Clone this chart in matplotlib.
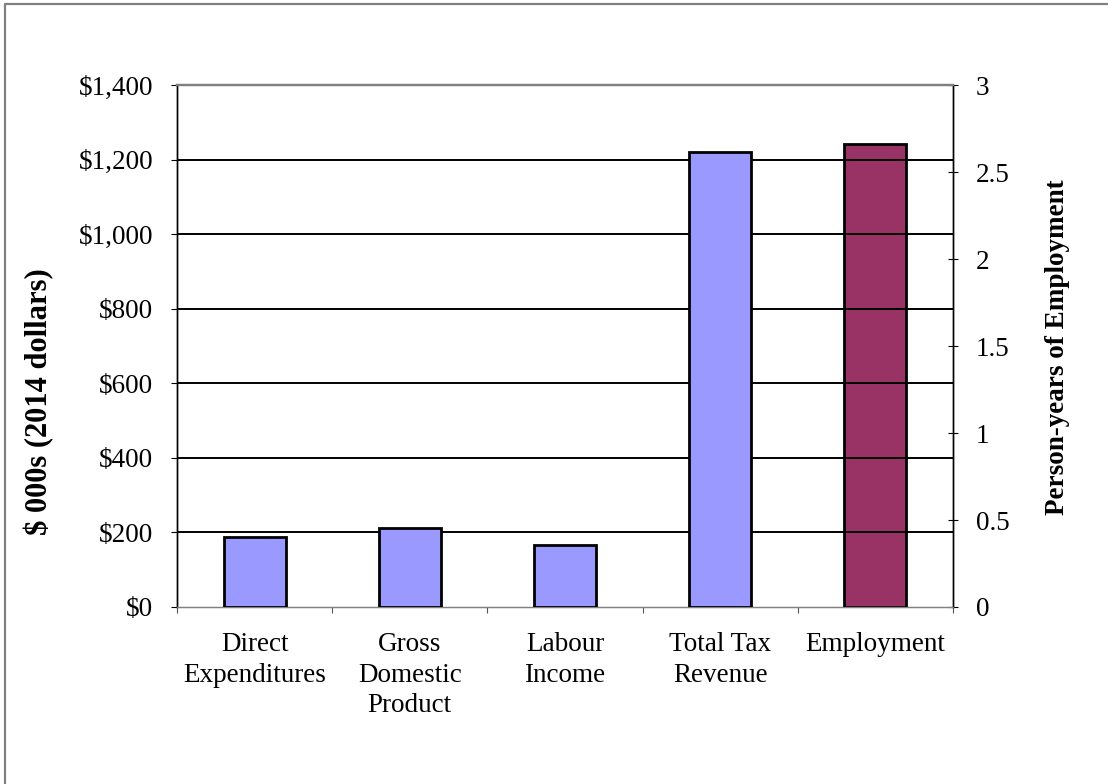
import matplotlib
matplotlib.use("Agg")
import matplotlib.pyplot as plt
from matplotlib.lines import Line2D
from matplotlib.ticker import FuncFormatter

plt.rcParams['font.family'] = ['Liberation Serif', 'DejaVu Serif']

categories = ["Direct\nExpenditures", "Gross\nDomestic\nProduct", "Labour\nIncome",
              "Total Tax\nRevenue", "Employment"]
dollar_values = [188, 213, 167, 1220]          # $ 000s (2014 dollars)
employment_value = [2.66]                       # person-years
left_ticks = [0, 200, 400, 600, 800, 1000, 1200, 1400]
right_ticks = [0, 0.5, 1, 1.5, 2, 2.5, 3]

W, H = 1108, 784
fig = plt.figure(figsize=(W / 100, H / 100), dpi=100)
ax = fig.add_axes([177 / W, 1 - 607 / H, (953 - 177) / W, (607 - 85) / H])
ax2 = ax.twinx()

fs = 19.5
bar_w = 0.4
x = list(range(len(categories)))

# gridlines (black) below the bars
for v in left_ticks[1:-1]:
    ax.axhline(v, color='black', lw=1.4, zorder=1)

ax.bar(x[:4], dollar_values, width=bar_w, color='#9999FF', edgecolor='black',
       linewidth=2.0, zorder=3)
ax2.bar(x[4:], employment_value, width=bar_w, color='#993366', edgecolor='black',
        linewidth=2.0, zorder=3)

ax.set_xlim(-0.5, len(categories) - 0.5)
ax.set_ylim(0, 1400)
ax2.set_ylim(0, 3)

ax.set_yticks(left_ticks)
ax.yaxis.set_major_formatter(FuncFormatter(lambda v, p: f"${v:,.0f}"))
ax2.set_yticks(right_ticks)
ax2.yaxis.set_major_formatter(FuncFormatter(lambda v, p: f"{v:g}"))

ax.set_xticks(x)
ax.set_xticklabels(categories, linespacing=1.3)
ax.set_xticks([i - 0.5 for i in range(len(categories) + 1)], minor=True)
ax.tick_params(axis='x', which='major', length=0, pad=18, labelsize=fs)
ax.tick_params(axis='x', which='minor', length=4.5, width=0.8, direction='out',
               color='#555555')
ax.tick_params(axis='y', which='major', length=4, width=0.8, direction='out',
               pad=13, labelsize=fs)
ax2.tick_params(axis='y', which='major', length=7, width=0.8, direction='inout',
                pad=13, labelsize=fs)

for a in (ax, ax2):
    a.spines['top'].set_color('#808080')
    a.spines['top'].set_linewidth(1.6)
    a.spines['bottom'].set_color('#808080')
    a.spines['bottom'].set_linewidth(0.9)
    a.spines['left'].set_color('black')
    a.spines['left'].set_linewidth(1.0)
    a.spines['right'].set_color('black')
    a.spines['right'].set_linewidth(1.0)
ax.set_zorder(ax2.get_zorder() + 1)
ax.patch.set_visible(False)

fig.text(39 / W, 1 - 402 / H, "$ 000s (2014 dollars)", rotation=90,
         ha='center', va='center', fontsize=22, fontweight='bold')
fig.text(1058 / W, 1 - 347 / H, "Person-years of Employment", rotation=90,
         ha='center', va='center', fontsize=fs, fontweight='bold')

# outer chart-area frame
fig.add_artist(Line2D([5 / W, 5 / W, 1.0], [0.0, 1 - 4 / H, 1 - 4 / H],
                      transform=fig.transFigure, color='#808080', lw=1.6))

fig.savefig("out.png", dpi=100)
